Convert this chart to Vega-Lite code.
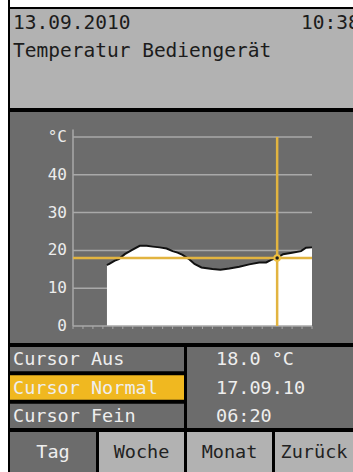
{
  "$schema": "https://vega.github.io/schema/vega-lite/v6.json",
  "padding": 0,
  "background": "black",
  "spacing": 2,
  "config": {"font": "DejaVu Sans Mono", "view": {"stroke": null}},
  "datasets": {
    "serie": [
      {"stunde": 3.41, "temp": 16.1}, {"stunde": 3.6, "temp": 16.4}, {"stunde": 4.2, "temp": 17.3},
      {"stunde": 4.6, "temp": 17.7}, {"stunde": 5.2, "temp": 19.0}, {"stunde": 5.9, "temp": 20.1},
      {"stunde": 6.7, "temp": 21.2}, {"stunde": 7.4, "temp": 21.2}, {"stunde": 8.0, "temp": 21.0},
      {"stunde": 8.7, "temp": 20.8}, {"stunde": 9.4, "temp": 20.5}, {"stunde": 10.0, "temp": 19.8},
      {"stunde": 10.5, "temp": 19.4}, {"stunde": 11.0, "temp": 18.8}, {"stunde": 11.7, "temp": 17.6},
      {"stunde": 12.2, "temp": 16.4}, {"stunde": 12.9, "temp": 15.5}, {"stunde": 14.0, "temp": 15.1},
      {"stunde": 14.8, "temp": 14.9}, {"stunde": 15.7, "temp": 15.2}, {"stunde": 16.7, "temp": 15.7},
      {"stunde": 17.7, "temp": 16.3}, {"stunde": 18.7, "temp": 16.8}, {"stunde": 19.4, "temp": 16.8},
      {"stunde": 19.9, "temp": 17.5}, {"stunde": 20.5, "temp": 18.0}, {"stunde": 21.1, "temp": 19.0},
      {"stunde": 22.0, "temp": 19.4}, {"stunde": 22.9, "temp": 19.8}, {"stunde": 23.4, "temp": 20.7},
      {"stunde": 24.0, "temp": 20.8}
    ],
    "gitter": [
      {"wert": 0, "beschriftung": "0"}, {"wert": 10, "beschriftung": "10"}, {"wert": 20, "beschriftung": "20"},
      {"wert": 30, "beschriftung": "30"}, {"wert": 40, "beschriftung": "40"}, {"wert": 50, "beschriftung": "°C"}
    ],
    "striche": [
      {"stunde": 0}, {"stunde": 1}, {"stunde": 2}, {"stunde": 3}, {"stunde": 4}, {"stunde": 5}, {"stunde": 6},
      {"stunde": 7}, {"stunde": 8}, {"stunde": 9}, {"stunde": 10}, {"stunde": 11}, {"stunde": 12}, {"stunde": 13},
      {"stunde": 14}, {"stunde": 15}, {"stunde": 16}, {"stunde": 17}, {"stunde": 18}, {"stunde": 19}, {"stunde": 20},
      {"stunde": 21}, {"stunde": 22}, {"stunde": 23}, {"stunde": 24}
    ],
    "cursor": [{"stunde": 20.5, "temp": 18.0, "datum": "17.09.10", "zeit": "06:20"}]
  },
  "hconcat": [
    {
      "width": 8, "height": 472,
      "view": {"fill": "white", "stroke": null},
      "data": {"values": [{"leer": ""}]},
      "mark": {"type": "point", "size": 1, "opacity": 0}
    },
    {
      "spacing": 2,
      "vconcat": [
        {
          "width": 343, "height": 7,
          "view": {"fill": "white", "stroke": null},
          "data": {"values": [{"leer": ""}]},
          "mark": {"type": "point", "size": 1, "opacity": 0}
        },
        {
          "spacing": 4,
          "vconcat": [
            {
              "width": 343, "height": 99,
              "view": {"fill": "#b2b2b2", "stroke": null},
              "data": {"values": [
                {"t": "13.09.2010", "spalte": "links", "zeile": "1"},
                {"t": "10:38", "spalte": "rechts", "zeile": "1"},
                {"t": "Temperatur Bediengerät", "spalte": "links", "zeile": "2"}
              ]},
              "mark": {"type": "text", "align": "left", "baseline": "alphabetic", "fontSize": 19.5, "color": "#1c1c1c", "clip": true},
              "encoding": {
                "x": {"field": "spalte", "type": "nominal", "scale": {"type": "point", "domain": ["links", "rechts"], "range": [3, 291], "padding": 0}, "axis": null},
                "y": {"field": "zeile", "type": "ordinal", "scale": {"type": "point", "domain": ["1", "2"], "range": [20, 48], "padding": 0}, "axis": null},
                "text": {"field": "t"}
              }
            },
            {
              "width": 343, "height": 231,
              "view": {"fill": "#6c6c6c", "stroke": null},
              "encoding": {
                "x": {"type": "quantitative", "scale": {"domain": [0, 24], "range": [63, 302], "nice": false, "zero": false}, "axis": null},
                "y": {"type": "quantitative", "scale": {"domain": [0, 50], "range": [214, 25], "nice": false, "zero": false}, "axis": null}
              },
              "layer": [
                {
                  "data": {"name": "gitter"},
                  "transform": [{"filter": "datum.wert > 0"}],
                  "mark": {"type": "rule", "color": "#a9a9a9", "strokeWidth": 1.5},
                  "encoding": {
                    "y": {"field": "wert", "type": "quantitative"},
                    "x": {"datum": 0, "type": "quantitative"},
                    "x2": {"datum": 24}
                  }
                },
                {
                  "data": {"name": "serie"},
                  "mark": {"type": "area", "color": "white", "opacity": 1, "line": {"color": "#111111", "strokeWidth": 2}},
                  "encoding": {
                    "x": {"field": "stunde", "type": "quantitative"},
                    "y": {"field": "temp", "type": "quantitative"}
                  }
                },
                {
                  "data": {"values": [{"achse": "y"}]},
                  "mark": {"type": "rule", "color": "#a9a9a9", "strokeWidth": 1.5},
                  "encoding": {
                    "x": {"datum": 0, "type": "quantitative"},
                    "y": {"datum": 0, "type": "quantitative"},
                    "y2": {"datum": 52}
                  }
                },
                {
                  "data": {"values": [{"achse": "x"}]},
                  "mark": {"type": "rule", "color": "#a9a9a9", "strokeWidth": 1.5},
                  "encoding": {
                    "y": {"datum": 0, "type": "quantitative"},
                    "x": {"datum": 0, "type": "quantitative"},
                    "x2": {"datum": 24}
                  }
                },
                {
                  "data": {"name": "striche"},
                  "mark": {"type": "rule", "color": "#a9a9a9", "strokeWidth": 1},
                  "encoding": {
                    "x": {"field": "stunde", "type": "quantitative"},
                    "y": {"datum": 0, "type": "quantitative"},
                    "y2": {"datum": -0.8}
                  }
                },
                {
                  "data": {"name": "gitter"},
                  "mark": {"type": "text", "align": "right", "baseline": "middle", "dx": -6, "fontSize": 16, "color": "#ececec"},
                  "encoding": {
                    "y": {"field": "wert", "type": "quantitative"},
                    "x": {"datum": 0, "type": "quantitative"},
                    "text": {"field": "beschriftung"}
                  }
                },
                {
                  "data": {"name": "cursor"},
                  "mark": {"type": "rule", "color": "#e2b440", "strokeWidth": 2.5},
                  "encoding": {
                    "x": {"field": "stunde", "type": "quantitative"},
                    "y": {"datum": 0, "type": "quantitative"},
                    "y2": {"datum": 50}
                  }
                },
                {
                  "data": {"name": "cursor"},
                  "mark": {"type": "rule", "color": "#e2b440", "strokeWidth": 2.5},
                  "encoding": {
                    "y": {"field": "temp", "type": "quantitative"},
                    "x": {"datum": 0, "type": "quantitative"},
                    "x2": {"datum": 24}
                  }
                },
                {
                  "data": {"name": "cursor"},
                  "mark": {"type": "point", "shape": "circle", "filled": true, "color": "#1a1a1a", "stroke": "#f0c040", "strokeWidth": 2, "size": 30, "opacity": 1},
                  "encoding": {
                    "x": {"field": "stunde", "type": "quantitative"},
                    "y": {"field": "temp", "type": "quantitative"}
                  }
                }
              ]
            },
            {
              "spacing": 3,
              "hconcat": [
                {
                  "width": 174, "height": 81,
                  "view": {"fill": "black", "stroke": null},
                  "data": {"values": [
                    {"modus": "Cursor Aus", "aktiv": "nein"},
                    {"modus": "Cursor Normal", "aktiv": "ja"},
                    {"modus": "Cursor Fein", "aktiv": "nein"}
                  ]},
                  "encoding": {
                    "y": {"field": "modus", "type": "nominal", "sort": null, "scale": {"paddingInner": 0.141, "paddingOuter": 0}, "axis": null}
                  },
                  "layer": [
                    {
                      "mark": {"type": "bar"},
                      "encoding": {
                        "color": {"field": "aktiv", "type": "nominal", "scale": {"domain": ["nein", "ja"], "range": ["#6c6c6c", "#f0b820"]}, "legend": null}
                      }
                    },
                    {
                      "mark": {"type": "text", "align": "left", "baseline": "middle", "fontSize": 18.5, "color": "#eeeeee"},
                      "encoding": {
                        "x": {"value": 3},
                        "text": {"field": "modus"}
                      }
                    }
                  ]
                },
                {
                  "width": 166, "height": 81,
                  "view": {"fill": "#6c6c6c", "stroke": null},
                  "data": {"values": [
                    {"zeile": "1", "wert": "18.0 °C"},
                    {"zeile": "2", "wert": "17.09.10"},
                    {"zeile": "3", "wert": "06:20"}
                  ]},
                  "mark": {"type": "text", "align": "left", "baseline": "middle", "fontSize": 18.5, "color": "#eeeeee"},
                  "encoding": {
                    "y": {"field": "zeile", "type": "ordinal", "scale": {"type": "band", "paddingInner": 0.141, "paddingOuter": 0}, "axis": null},
                    "x": {"value": 29},
                    "text": {"field": "wert"}
                  }
                }
              ]
            },
            {
              "spacing": 3,
              "hconcat": [
                {
                  "width": 86, "height": 40,
                  "view": {"fill": "#6c6c6c", "stroke": null},
                  "data": {"values": [{"knopf": "Tag"}]},
                  "mark": {"type": "text", "align": "center", "baseline": "middle", "fontSize": 18.5, "color": "#eeeeee"},
                  "encoding": {"text": {"field": "knopf"}}
                },
                {
                  "width": 85, "height": 40,
                  "view": {"fill": "#b2b2b2", "stroke": null},
                  "data": {"values": [{"knopf": "Woche"}]},
                  "mark": {"type": "text", "align": "center", "baseline": "middle", "fontSize": 18.5, "color": "#222222"},
                  "encoding": {"text": {"field": "knopf"}}
                },
                {
                  "width": 85, "height": 40,
                  "view": {"fill": "#b2b2b2", "stroke": null},
                  "data": {"values": [{"knopf": "Monat"}]},
                  "mark": {"type": "text", "align": "center", "baseline": "middle", "fontSize": 18.5, "color": "#222222"},
                  "encoding": {"text": {"field": "knopf"}}
                },
                {
                  "width": 78, "height": 40,
                  "view": {"fill": "#b2b2b2", "stroke": null},
                  "data": {"values": [{"knopf": "Zurück"}]},
                  "mark": {"type": "text", "align": "center", "baseline": "middle", "fontSize": 18.5, "color": "#222222"},
                  "encoding": {"text": {"field": "knopf"}}
                }
              ]
            }
          ]
        }
      ]
    }
  ]
}
